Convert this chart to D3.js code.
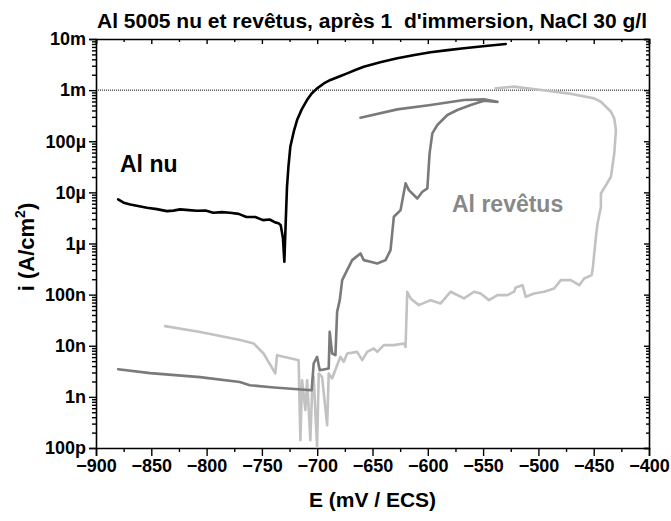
<!DOCTYPE html>
<html>
<head>
<meta charset="utf-8">
<script src="https://cdn.jsdelivr.net/npm/d3@7"></script>
<style>
  html, body { margin: 0; padding: 0; background: #fff; }
  svg { display: block; font-family: "Liberation Sans", Arial, sans-serif; }
</style>
</head>
<body>
<svg id="chart" width="671" height="521"></svg>
<script>
// ---------------- data ----------------
const title = "Al 5005 nu et revêtus, après 1  d'immersion, NaCl 30 g/l";
const xLabel = "E (mV / ECS)";
const xTicks = [-900, -850, -800, -750, -700, -650, -600, -550, -500, -450, -400];
const yTicks = [1e-10, 1e-9, 1e-8, 1e-7, 1e-6, 1e-5, 1e-4, 1e-3, 1e-2];
const yTickLabels = ["100p", "1n", "10n", "100n", "1µ", "10µ", "100µ", "1m", "10m"];
const refLevel = 1e-3;

// Al nu (black)
const nuE = [-880, -875, -869, -862, -854, -845, -836, -830, -824, -816, -809, -801, -794, -786, -779, -771, -764, -756, -749, -743, -738, -735, -733, -731, -729.7, -728.5, -727.3, -726, -724.3, -721, -718.2, -714, -709.2, -705, -700.1, -694, -688, -680, -672.9, -665, -657.9, -643, -627.6, -612, -597.5, -582, -567.3, -548, -529.5];
const nuI = [7.3e-6, 6.3e-6, 5.8e-6, 5.4e-6, 5.0e-6, 4.7e-6, 4.3e-6, 4.4e-6, 4.65e-6, 4.5e-6, 4.36e-6, 4.4e-6, 4.0e-6, 4.1e-6, 4.0e-6, 3.8e-6, 3.3e-6, 3.3e-6, 2.87e-6, 2.95e-6, 2.59e-6, 2.5e-6, 2.29e-6, 1.3e-6, 4.4e-7, 2.5e-6, 1.29e-5, 3.2e-5, 7.8e-5, 1.6e-4, 2.6e-4, 4.2e-4, 6.4e-4, 8.6e-4, 1.08e-3, 1.35e-3, 1.58e-3, 1.85e-3, 2.13e-3, 2.5e-3, 2.87e-3, 3.5e-3, 4.19e-3, 4.85e-3, 5.5e-3, 6.05e-3, 6.58e-3, 7.3e-3, 7.98e-3];

// Al revêtus, first sample (dark grey)
const rev1E = [-880, -851, -806, -770, -761, -739, -705, -703.2, -700.1, -697.7, -689.6, -688.7, -686.5, -683.5, -682, -679.6, -677.4, -674.4, -668.4, -660.9, -657.9, -651.8, -645.7, -638.2, -633.7, -630.7, -624.6, -620.1, -617.1, -609.5, -604.9, -600.4, -598.4, -595.9, -591.4, -582.3, -573.3, -561.2, -549.2, -537, -549.2, -567.3, -597.5, -627.6, -660.9];
const rev1I = [3.48e-9, 2.91e-9, 2.43e-9, 1.96e-9, 1.69e-9, 1.53e-9, 1.35e-9, 4.5e-9, 6.06e-9, 3.33e-9, 3.6e-9, 1.87e-8, 7.06e-9, 6.55e-9, 4.6e-8, 7.8e-8, 1.92e-7, 2.6e-7, 4.73e-7, 6.4e-7, 4.73e-7, 4.38e-7, 4.07e-7, 4.73e-7, 7.43e-7, 3.33e-6, 4.5e-6, 1.5e-5, 1.11e-5, 7.6e-6, 1.03e-5, 1.2e-5, 5.8e-5, 1.43e-4, 2.08e-4, 3.26e-4, 4.08e-4, 5.1e-4, 6.2e-4, 5.9e-4, 6.6e-4, 6.4e-4, 5.1e-4, 4.2e-4, 2.88e-4];

// Al revêtus, second sample (light grey)
const rev2E = [-837.5, -805.8, -769.6, -757.5, -748.5, -737.9, -736.3, -716.8, -715.2, -713.7, -710.7, -709.1, -706.2, -704.6, -703.2, -700.1, -698.6, -695.6, -691, -689.6, -686.5, -682, -679, -676, -672.9, -663.9, -659.3, -654.8, -648.8, -645.7, -639.8, -630.7, -621.6, -620.1, -618.6, -615.6, -608.1, -597.5, -588.4, -579.3, -567.3, -558.2, -552.2, -544.7, -537, -528, -522, -520.5, -514.4, -511.4, -503.9, -494.8, -485.8, -479.7, -470.7, -463.1, -458.6, -451.9, -451, -448, -446.5, -443.5, -443.5, -434.4, -431.4, -429.9, -431.4, -434.4, -443.5, -449.5, -473.6, -491.8, -509.9, -522, -538.6];
const rev2I = [2.42e-8, 1.85e-8, 1.29e-8, 1.11e-8, 7.06e-9, 2.87e-9, 6.55e-9, 5.23e-9, 1.42e-10, 2.12e-9, 5.5e-10, 2.12e-9, 1.42e-10, 1.35e-9, 2.46e-9, 1.05e-10, 2.87e-9, 2.46e-9, 2.8e-10, 2.87e-9, 2.29e-9, 4.17e-9, 6.07e-9, 4.84e-9, 7.06e-9, 7.6e-9, 5.23e-9, 7.6e-9, 8.85e-9, 7.6e-9, 1.03e-8, 1.03e-8, 1.11e-8, 9.5e-9, 1.14e-7, 8.43e-8, 6.23e-8, 7.8e-8, 6.73e-8, 1.14e-7, 8.43e-8, 1.14e-7, 1.05e-7, 7.8e-8, 9.77e-8, 9.77e-8, 1.14e-7, 1.38e-7, 1.53e-7, 9.06e-8, 1.05e-7, 1.14e-7, 1.32e-7, 1.92e-7, 1.92e-7, 1.53e-7, 2.07e-7, 2.41e-7, 3.02e-7, 1.35e-6, 2.47e-6, 5.2e-6, 9.5e-6, 2.02e-5, 5.8e-5, 1.66e-4, 2.8e-4, 3.78e-4, 5.93e-4, 6.9e-4, 8.65e-4, 9.73e-4, 1.08e-3, 1.17e-3, 1.08e-3];

// ---------------- chart ----------------
const W = 671, H = 521;
const m = { left: 96, right: 22, top: 39, bottom: 73 };
const svg = d3.select("#chart");
const x = d3.scaleLinear().domain([-900, -400]).range([m.left, W - m.right]);
const y = d3.scaleLog().domain([1e-10, 1e-2]).range([H - m.bottom, m.top]);

const xMinor = d3.range(-875, -400, 50);
const yMinor = [];
for (let e = -10; e < -2; e++) for (let k = 2; k <= 9; k++) yMinor.push(k * Math.pow(10, e));

const fmtY = d => yTickLabels[yTicks.findIndex(v => Math.abs(Math.log10(v) - Math.log10(d)) < 1e-6)];

function styleAxis(g) {
  g.select(".domain").attr("stroke", "#000").attr("stroke-width", 1.6);
  g.selectAll(".tick line").attr("stroke", "#000").attr("stroke-width", 1.4);
}
function styleLabels(g) {
  g.selectAll("text").attr("font-size", 18).attr("font-weight", "bold").attr("fill", "#000")
    .attr("font-family", "Liberation Sans, Arial, sans-serif");
}

// frame / axes
const gx = svg.append("g").attr("transform", `translate(0,${H - m.bottom})`)
  .call(d3.axisBottom(x).tickValues(xTicks).tickSize(8).tickPadding(3).tickFormat(d3.format("d")));
styleAxis(gx); styleLabels(gx);
const gxm = svg.append("g").attr("transform", `translate(0,${H - m.bottom})`)
  .call(d3.axisBottom(x).tickValues(xMinor).tickSize(4).tickFormat(""));
styleAxis(gxm); gxm.select(".domain").remove();

const gt = svg.append("g").attr("transform", `translate(0,${m.top})`)
  .call(d3.axisTop(x).tickValues(xTicks).tickSize(-5).tickFormat(""));
styleAxis(gt);
const gtm = svg.append("g").attr("transform", `translate(0,${m.top})`)
  .call(d3.axisTop(x).tickValues(xMinor).tickSize(-3).tickFormat(""));
styleAxis(gtm); gtm.select(".domain").remove();

const gy = svg.append("g").attr("transform", `translate(${m.left},0)`)
  .call(d3.axisLeft(y).tickValues(yTicks).tickSize(7).tickPadding(3).tickFormat(fmtY));
styleAxis(gy); styleLabels(gy);
const gym = svg.append("g").attr("transform", `translate(${m.left},0)`)
  .call(d3.axisLeft(y).tickValues(yMinor).tickSize(4).tickFormat(""));
styleAxis(gym); gym.select(".domain").remove();

const gr = svg.append("g").attr("transform", `translate(${W - m.right},0)`)
  .call(d3.axisRight(y).tickValues(yTicks).tickSize(-5).tickFormat(""));
styleAxis(gr);
const grm = svg.append("g").attr("transform", `translate(${W - m.right},0)`)
  .call(d3.axisRight(y).tickValues(yMinor).tickSize(-3).tickFormat(""));
styleAxis(grm); grm.select(".domain").remove();

// reference dotted line
svg.append("line")
  .attr("x1", x(-900)).attr("x2", x(-400))
  .attr("y1", y(refLevel)).attr("y2", y(refLevel))
  .attr("stroke", "#000").attr("stroke-width", 1).attr("stroke-dasharray", "1,1");

// curves
const line = d3.line().x(d => x(d[0])).y(d => y(d[1]));
const series = [
  { E: rev2E, I: rev2I, color: "#c2c2c2" },
  { E: rev1E, I: rev1I, color: "#7a7a7a" },
  { E: nuE, I: nuI, color: "#000000" }
];
series.forEach(s => {
  svg.append("path")
    .datum(s.E.map((e, i) => [e, s.I[i]]))
    .attr("d", line)
    .attr("fill", "none")
    .attr("stroke", s.color)
    .attr("stroke-width", 2.6)
    .attr("stroke-linejoin", "round")
    .attr("stroke-linecap", "round");
});

// annotations
svg.append("text").attr("x", 120).attr("y", 172).text("Al nu")
  .attr("font-size", 23).attr("font-weight", "bold").attr("fill", "#000");
svg.append("text").attr("x", 452).attr("y", 212).text("Al revêtus")
  .attr("font-size", 23).attr("font-weight", "bold").attr("fill", "#888");

// title
svg.append("text").attr("x", 372).attr("y", 28)
  .attr("text-anchor", "middle").attr("font-size", 21).attr("font-weight", "bold")
  .style("white-space", "pre").text(title);

// axis titles
svg.append("text").attr("x", (m.left + W - m.right) / 2).attr("y", 507)
  .attr("text-anchor", "middle").attr("font-size", 21).attr("font-weight", "bold").text(xLabel);

const yt = svg.append("text")
  .attr("transform", `translate(34,247) rotate(-90)`)
  .attr("text-anchor", "middle").attr("font-size", 22).attr("font-weight", "bold");
yt.append("tspan").text("i (A/cm");
yt.append("tspan").attr("font-size", 14).attr("dy", -9).text("2");
yt.append("tspan").attr("dy", 9).text(")");
</script>
</body>
</html>
